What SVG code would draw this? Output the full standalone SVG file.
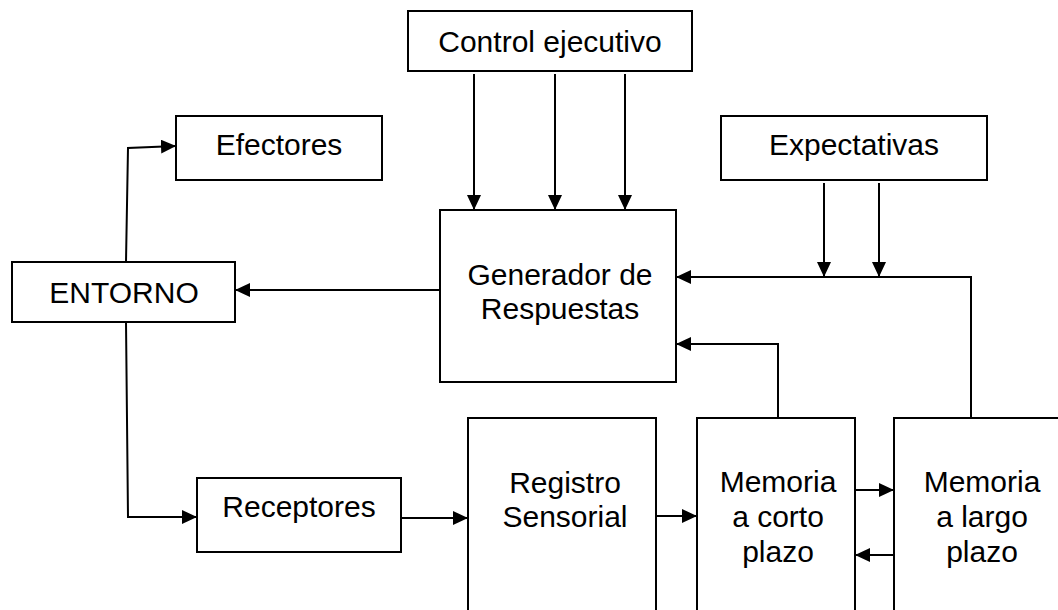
<svg xmlns="http://www.w3.org/2000/svg" width="1058" height="610" viewBox="0 0 1058 610">
<defs>
<style>
.box{fill:#fff;stroke:#000;stroke-width:2}
.t{font-family:"Liberation Sans",Arial,sans-serif;font-size:30px;fill:#000;text-anchor:middle}
.c{fill:none;stroke:#000;stroke-width:2}
</style>
<marker id="ah" markerUnits="userSpaceOnUse" markerWidth="15" markerHeight="14" refX="15" refY="7" orient="auto">
<path d="M0,0 L15,7 L0,14 Z" fill="#000"/>
</marker>
</defs>
<rect width="1058" height="610" fill="#fff"/>
<g id="control">
<rect class="box" x="408" y="11" width="284" height="60"/>
<text class="t" x="550" y="52">Control ejecutivo</text>
</g>
<g id="efectores">
<rect class="box" x="176" y="116" width="206" height="64"/>
<text class="t" x="279" y="155">Efectores</text>
</g>
<g id="expectativas">
<rect class="box" x="721" y="116" width="266" height="64"/>
<text class="t" x="854" y="155">Expectativas</text>
</g>
<g id="entorno">
<rect class="box" x="12" y="262" width="223" height="60"/>
<text class="t" x="124" y="303">ENTORNO</text>
</g>
<g id="generador">
<rect class="box" x="440" y="210" width="236" height="172"/>
<text class="t" x="560" y="285">Generador de</text>
<text class="t" x="560" y="319">Respuestas</text>
</g>
<g id="receptores">
<rect class="box" x="197" y="478" width="204" height="74"/>
<text class="t" x="299" y="517">Receptores</text>
</g>
<g id="registro">
<rect class="box" x="468" y="418" width="188" height="200"/>
<text class="t" x="565" y="493">Registro</text>
<text class="t" x="565" y="527">Sensorial</text>
</g>
<g id="memoria-corto">
<rect class="box" x="697" y="418" width="158" height="200"/>
<text class="t" x="778" y="492">Memoria</text>
<text class="t" x="778" y="527">a corto</text>
<text class="t" x="778" y="562">plazo</text>
</g>
<g id="memoria-largo">
<rect class="box" x="894" y="418" width="180" height="200"/>
<text class="t" x="982" y="492">Memoria</text>
<text class="t" x="982" y="527">a largo</text>
<text class="t" x="982" y="562">plazo</text>
</g>
<g id="connectors">
<line class="c" x1="474" y1="74" x2="474" y2="210" marker-end="url(#ah)"/>
<line class="c" x1="555" y1="74" x2="555" y2="210" marker-end="url(#ah)"/>
<line class="c" x1="625" y1="74" x2="625" y2="210" marker-end="url(#ah)"/>
<polyline class="c" points="126,262 128,148 176,146" marker-end="url(#ah)"/>
<line class="c" x1="440" y1="290" x2="235" y2="290" marker-end="url(#ah)"/>
<polyline class="c" points="126,322 128,517 197,517" marker-end="url(#ah)"/>
<line class="c" x1="401" y1="518" x2="468" y2="518" marker-end="url(#ah)"/>
<line class="c" x1="824" y1="183" x2="824" y2="277" marker-end="url(#ah)"/>
<line class="c" x1="879" y1="183" x2="879" y2="277" marker-end="url(#ah)"/>
<polyline class="c" points="971,418 971,277 676,277" marker-end="url(#ah)"/>
<polyline class="c" points="778,418 778,344 676,344" marker-end="url(#ah)"/>
<line class="c" x1="656" y1="516" x2="697" y2="516" marker-end="url(#ah)"/>
<line class="c" x1="855" y1="490" x2="894" y2="490" marker-end="url(#ah)"/>
<line class="c" x1="894" y1="555" x2="855" y2="555" marker-end="url(#ah)"/>
</g>
</svg>
